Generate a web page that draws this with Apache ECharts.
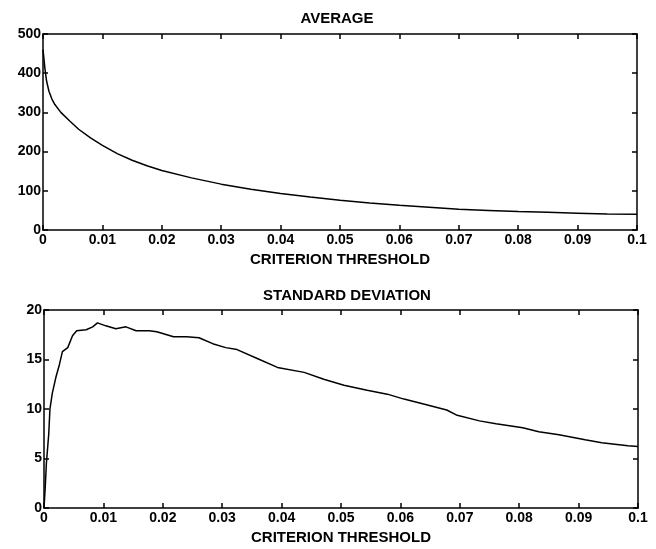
<!DOCTYPE html>
<html>
<head>
<meta charset="utf-8">
<script src="https://cdn.jsdelivr.net/npm/echarts@6/dist/echarts.min.js"></script>
<style>
html,body{margin:0;padding:0;background:#fff;}
#c{width:656px;height:549px;}
</style>
</head>
<body>
<div id="c"></div>
<script>
// ---- data ----
const avgX = [0, 0.0003, 0.0006, 0.001, 0.0015, 0.002, 0.003, 0.0045, 0.006, 0.008, 0.01, 0.0125, 0.015, 0.0175, 0.02, 0.025, 0.03, 0.035, 0.04, 0.045, 0.05, 0.055, 0.06, 0.065, 0.07, 0.075, 0.08, 0.085, 0.09, 0.095, 0.1];
const avgY = [460, 415, 380, 354, 334, 320, 300, 278, 257, 235, 216, 195, 178, 164, 152, 133, 117, 104, 93, 84, 76, 69, 63, 58, 53, 50, 47, 45, 43, 41, 40];

const stdX = [0, 0.0002, 0.0004, 0.0008, 0.001, 0.0014, 0.002, 0.0026, 0.0031, 0.004, 0.0048, 0.0055, 0.0071, 0.0082, 0.009, 0.0104, 0.0121, 0.0138, 0.0155, 0.0177, 0.019, 0.0218, 0.024, 0.0261, 0.0284, 0.0306, 0.0325, 0.0359, 0.0393, 0.0438, 0.0471, 0.0505, 0.0544, 0.0578, 0.0606, 0.0639, 0.0678, 0.0694, 0.0733, 0.0761, 0.0806, 0.0833, 0.0867, 0.0911, 0.0939, 0.0983, 0.1];
const stdY = [0, 2, 4.5, 7.5, 10, 11.6, 13.2, 14.5, 15.8, 16.2, 17.4, 17.9, 18.0, 18.3, 18.7, 18.4, 18.1, 18.3, 17.9, 17.9, 17.8, 17.3, 17.3, 17.2, 16.6, 16.2, 16.0, 15.1, 14.2, 13.7, 13.0, 12.4, 11.9, 11.5, 11.0, 10.5, 9.9, 9.4, 8.8, 8.5, 8.1, 7.7, 7.4, 6.9, 6.6, 6.3, 6.2];

const xTicks = {min: 0, max: 0.1, interval: 0.01};
const avgTicks = {min: 0, max: 500, interval: 100};
const stdTicks = {min: 0, max: 20, interval: 5};
const titles = ['AVERAGE', 'STANDARD DEVIATION'];
const xName = 'CRITERION THRESHOLD';

// ---- chart ----
const FONT = '"Liberation Sans", Arial, Helvetica, sans-serif';
const lineStyle = {color: '#000', width: 1.5};
const txt = {color: '#000', fontFamily: FONT, fontSize: 15, fontWeight: 'bold'};

function xa(grid, pos, labels) {
  return {
    type: 'value', gridIndex: grid, position: pos,
    min: xTicks.min, max: xTicks.max, interval: xTicks.interval,
    axisLine: {show: true, onZero: false, lineStyle: lineStyle},
    axisTick: {show: true, inside: true, length: 5, lineStyle: lineStyle},
    axisLabel: {show: labels, margin: 3, ...txt, fontSize: 14,
      formatter: v => v === 0 ? '0' : String(+v.toFixed(2))},
    splitLine: {show: false},
    name: labels ? xName : '', nameLocation: 'middle', nameGap: 22,
    nameTextStyle: {...txt}
  };
}
function ya(grid, pos, t, labels) {
  return {
    type: 'value', gridIndex: grid, position: pos,
    min: t.min, max: t.max, interval: t.interval,
    axisLine: {show: true, onZero: false, lineStyle: lineStyle},
    axisTick: {show: true, inside: true, length: 5, lineStyle: lineStyle},
    axisLabel: {show: labels, margin: 2, ...txt, fontSize: 14},
    splitLine: {show: false}
  };
}

const option = {
  backgroundColor: '#fff',
  animation: false,
  title: [
    {text: titles[0], left: 332, top: 6, textAlign: 'center', textStyle: {...txt}},
    {text: titles[1], left: 342, top: 283, textAlign: 'center', textStyle: {...txt}}
  ],
  grid: [
    {left: 43, top: 34, width: 594, height: 196},
    {left: 44, top: 310, width: 594, height: 198}
  ],
  xAxis: [xa(0, 'bottom', true), xa(0, 'top', false), xa(1, 'bottom', true), xa(1, 'top', false)],
  yAxis: [ya(0, 'left', avgTicks, true), ya(0, 'right', avgTicks, false),
          ya(1, 'left', stdTicks, true), ya(1, 'right', stdTicks, false)],
  series: [
    {type: 'line', xAxisIndex: 0, yAxisIndex: 0, showSymbol: false, symbol: 'none',
     lineStyle: {color: '#000', width: 1.5}, data: avgX.map((x, i) => [x, avgY[i]])},
    {type: 'line', xAxisIndex: 2, yAxisIndex: 2, showSymbol: false, symbol: 'none',
     lineStyle: {color: '#000', width: 1.5}, data: stdX.map((x, i) => [x, stdY[i]])}
  ]
};
const chart = echarts.init(document.getElementById('c'), null, {renderer: 'canvas'});
chart.setOption(option);
</script>
</body>
</html>
